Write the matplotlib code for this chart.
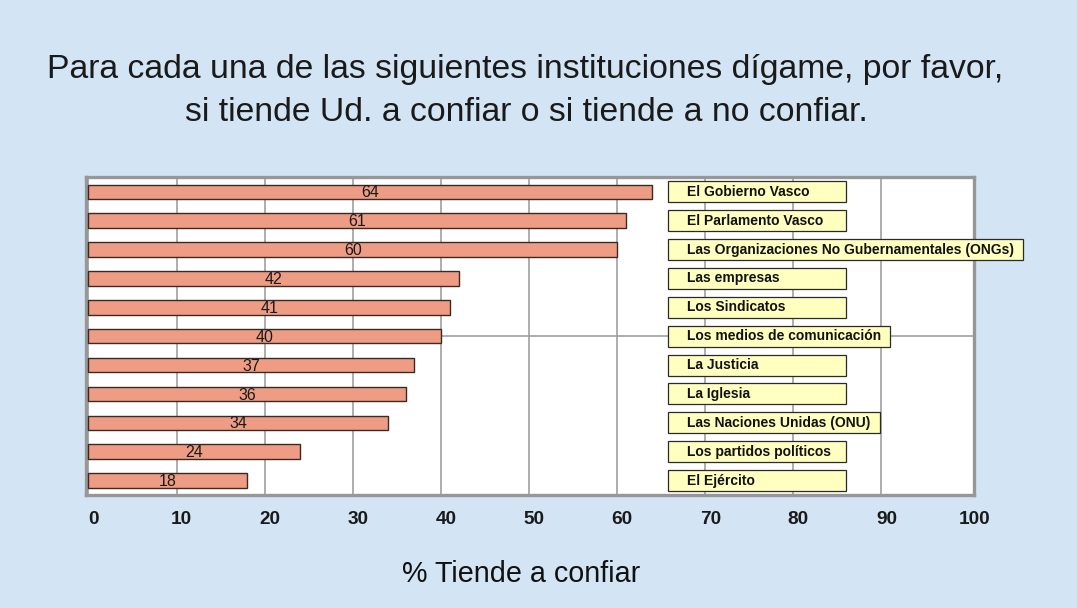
import matplotlib
matplotlib.use("Agg")
import matplotlib.pyplot as plt
from matplotlib.patches import Rectangle
from matplotlib.transforms import ScaledTranslation, blended_transform_factory

plt.rcParams['font.family'] = ['Liberation Sans', 'DejaVu Sans']

categories = [
    "El Gobierno Vasco",
    "El Parlamento Vasco",
    "Las Organizaciones No Gubernamentales (ONGs)",
    "Las empresas",
    "Los Sindicatos",
    "Los medios de comunicación",
    "La Justicia",
    "La Iglesia",
    "Las Naciones Unidas (ONU)",
    "Los partidos políticos",
    "El Ejército",
]
values = [64, 61, 60, 42, 41, 40, 37, 36, 34, 24, 18]
xticks = [0, 10, 20, 30, 40, 50, 60, 70, 80, 90, 100]

title_lines = ["Para cada una de las siguientes instituciones dígame, por favor,",
               "si tiende Ud. a confiar o si tiende a no confiar."]
xlabel = "% Tiende a confiar"

BG = "#D3E5F4"
BAR = "#EE9C84"
BOX = "#FFFFC0"
GRID = "#A0A0A0"
FRAME = "#979797"

W, H = 1077, 608
fig = plt.figure(figsize=(W / 100, H / 100), dpi=100, facecolor=BG)

L, R, T, B = 86, 974, 176.5, 495
ax = fig.add_axes([L / W, 1 - B / H, (R - L) / W, (B - T) / H])
ax.set_facecolor("white")

y = list(range(len(categories)))
ax.barh(y, values, height=0.5, color=BAR, edgecolor="#3a2a26", linewidth=1.0, zorder=3)
for yi, v in zip(y, values):
    ax.text(v / 2, yi + 0.04, str(v), ha="center", va="center", fontsize=11.5,
            color="#1a1a1a", zorder=4)

xmax = 100.5
ax.set_xlim(-0.28, xmax)
ax.set_ylim(len(categories) - 0.5, -0.53)
ax.set_yticks([])
# grid lines (the one at 100 is hidden under the frame in the reference)
ax.set_xticks([t for t in xticks if t < 100])
ax.set_xticklabels([])
ax.tick_params(axis="x", length=0)
# tick labels, drawn slightly to the right of their grid lines as in the reference
tick_tr = blended_transform_factory(ax.transData, ax.transAxes) + \
    ScaledTranslation(5 / 100, -24 / 100, fig.dpi_scale_trans)
for t in xticks:
    ax.text(t, 0, str(t), transform=tick_tr, ha="center", va="center",
            fontsize=13.7, fontweight="bold", color="#1a1a1a", clip_on=False)

ax.grid(axis="x", color=GRID, linewidth=1.2, zorder=1)
ax.set_axisbelow(True)
for s in ax.spines.values():
    s.set_color(FRAME)
    s.set_linewidth(2.4)

# stray horizontal rule seen in the reference on the "medios" row
idx = categories.index("Los medios de comunicación")
ax.hlines(idx, values[idx], xmax, color=GRID, linewidth=1.2, zorder=2)

# labels in yellow boxes
fig.canvas.draw()
renderer = fig.canvas.get_renderer()
inv = fig.transFigure.inverted()
box_left_data = 65.8
for yi, cat in zip(y, categories):
    x0, yc = ax.transData.transform((box_left_data, yi))
    t = fig.text(*inv.transform((x0 + 19, yc)), cat, ha="left", va="center",
                 fontsize=10, fontweight="bold", color="#111111", zorder=6)
    bb = t.get_window_extent(renderer)
    wbox = max(178, bb.width + 28)
    hbox = 21
    (fx, fy) = inv.transform((x0, yc - hbox / 2))
    (fx2, fy2) = inv.transform((x0 + wbox, yc + hbox / 2))
    fig.patches.append(Rectangle((fx, fy), fx2 - fx, fy2 - fy, transform=fig.transFigure,
                                 facecolor=BOX, edgecolor="#2a2a2a", linewidth=0.9, zorder=5))

fig.text(525 / W, 1 - 78 / H, title_lines[0], ha="center", va="baseline", fontsize=24.3, color="#1a1a1a")
fig.text(526 / W, 1 - 121 / H, title_lines[1], ha="center", va="baseline", fontsize=24.3, color="#1a1a1a")
fig.text(521 / W, 1 - 581.5 / H, xlabel, ha="center", va="baseline", fontsize=20.7, color="#111111")

fig.savefig("out.png", dpi=100, facecolor=BG)
